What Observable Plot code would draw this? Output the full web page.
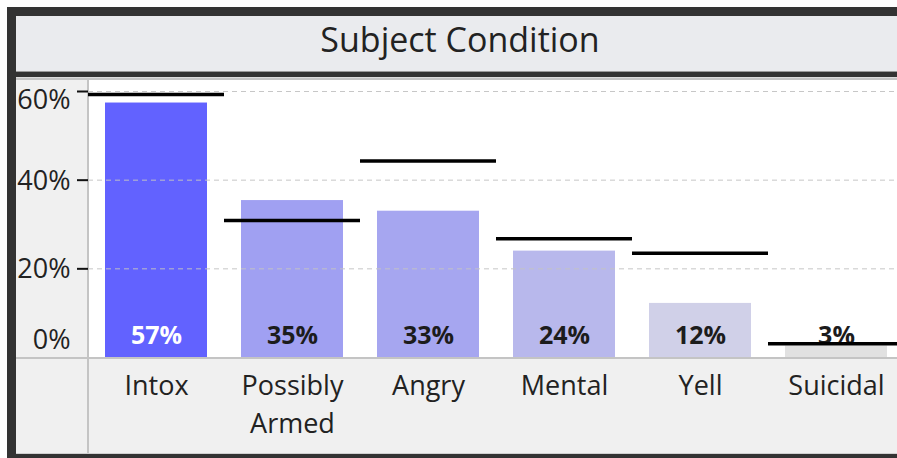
<!DOCTYPE html>
<html>
<head>
<meta charset="utf-8">
<script src="https://cdn.jsdelivr.net/npm/d3@7"></script>
<script src="https://cdn.jsdelivr.net/npm/@observablehq/plot@0.6"></script>
<style>
  html, body { margin: 0; padding: 0; background: #fff; overflow: hidden; }
  .abs { position: absolute; }
  #title { font-family: "Open Sans", "Noto Sans", sans-serif; font-size: 34px; color: #222; text-align: center; line-height: 46px; }
  #chart svg { display: block; }
</style>
</head>
<body>
<div class="abs" style="left:16px;top:16px;width:881px;height:56px;background:#EAEBEE;overflow:hidden;">
  <div id="title" style="position:absolute;left:0;top:0;width:888px;">Subject Condition</div>
</div>
<div class="abs" style="left:16px;top:71px;width:881px;height:1px;background:#9a9a9a;"></div>
<div class="abs" style="left:16px;top:72px;width:881px;height:5px;background:#333;"></div>
<div class="abs" style="left:16px;top:77px;width:881px;height:377px;background:#fff;border-top:1px solid #dcdcdc;border-bottom:1px solid #d0d0d0;box-sizing:border-box;"></div>
<div class="abs" style="left:16px;top:78px;width:881px;height:2px;background:#c4c4c4;"></div>
<div class="abs" style="left:16px;top:80px;width:72px;height:373px;background:#F0F0F0;"></div>
<div class="abs" style="left:16px;top:357px;width:881px;height:96px;background:#F0F0F0;"></div>
<div class="abs" style="left:16px;top:357px;width:881px;height:2px;background:#c4c4c4;"></div>
<div class="abs" style="left:87px;top:80px;width:2px;height:373px;background:#c4c4c4;"></div>
<div class="abs" style="left:7px;top:7px;width:890px;height:9px;background:#333;"></div>
<div class="abs" style="left:7px;top:7px;width:9px;height:451px;background:#333;"></div>
<div class="abs" style="left:7px;top:454px;width:890px;height:4px;background:#333;"></div>
<div class="abs" id="chart" style="left:16px;top:80px;width:881px;height:373px;overflow:hidden;"></div>
<script>
const categories = ["Intox", "Possibly\nArmed", "Angry", "Mental", "Yell", "Suicidal"];
const barValues = [57.4, 35.4, 33.0, 24.0, 12.2, 2.6];
const refValues = [59.3, 30.9, 44.3, 26.8, 23.5, 3.1];
const yTicks = [0, 20, 40, 60];
const barColors = ["#6262FF", "#A0A0F2", "#A6A6F0", "#B8B8EC", "#D0D0E8", "#E1E1E1"];
const labelColors = ["#ffffff", "#1c1c1c", "#1c1c1c", "#1c1c1c", "#1c1c1c", "#1c1c1c"];

const data = categories.map((c, i) => ({cat: c, value: barValues[i], ref: refValues[i], fill: barColors[i], lab: labelColors[i]}));
const fmt = v => Math.round(v) + "%";
const font = '"Open Sans", "Noto Sans", sans-serif';

const chart = Plot.plot({
  width: 881,
  height: 373,
  marginLeft: 72,
  marginRight: 0,
  marginTop: 0,
  marginBottom: 96,
  style: {background: "transparent", fontFamily: font, overflow: "hidden", maxWidth: "none"},
  x: {type: "band", domain: categories, range: [72, 888], paddingInner: 0.25, paddingOuter: 0.125, axis: null},
  y: {domain: [0, 60], range: [277, 11], axis: null},
  marks: [
    Plot.barY(data, {x: "cat", y: "value", fill: "fill"}),
    Plot.gridY(yTicks.filter(d => d > 0), {stroke: "#c4c4c4", strokeOpacity: 0.95, strokeDasharray: "5,4", strokeWidth: 1}),
    Plot.text(data, {x: "cat", y: 0, text: d => fmt(d.value), fill: "lab", fontSize: 25, fontWeight: "bold", dy: -22, lineAnchor: "middle"}),
    Plot.tickY(data, {x: "cat", y: "ref", stroke: "#000", strokeWidth: 3.5, insetLeft: -17, insetRight: -17}),
    Plot.axisY({ticks: yTicks.filter(d => d > 0), tickSize: 11, tickFormat: () => "", stroke: "#111", strokeWidth: 2, anchor: "left"}),
    Plot.text(yTicks.filter(d => d === 20 || d === 40), {y: d => d, text: fmt, frameAnchor: "left", textAnchor: "end", dx: -18, dy: 1, fontSize: 27, fill: "#222", lineAnchor: "middle"}),
    Plot.text(yTicks.filter(d => d === 60), {y: d => d, text: fmt, frameAnchor: "left", textAnchor: "end", dx: -18, dy: 9, fontSize: 27, fill: "#222", lineAnchor: "middle"}),
    Plot.text(yTicks.filter(d => d === 0), {y: d => d, text: fmt, frameAnchor: "left", textAnchor: "end", dx: -18, dy: -17, fontSize: 27, fill: "#222", lineAnchor: "middle"}),
    Plot.text(categories, {x: d => d, text: d => d, frameAnchor: "bottom", lineAnchor: "top", dy: 10, fontSize: 27, lineHeight: 1.41, fill: "#222"})
  ]
});
document.getElementById("chart").appendChild(chart);
</script>
</body>
</html>
